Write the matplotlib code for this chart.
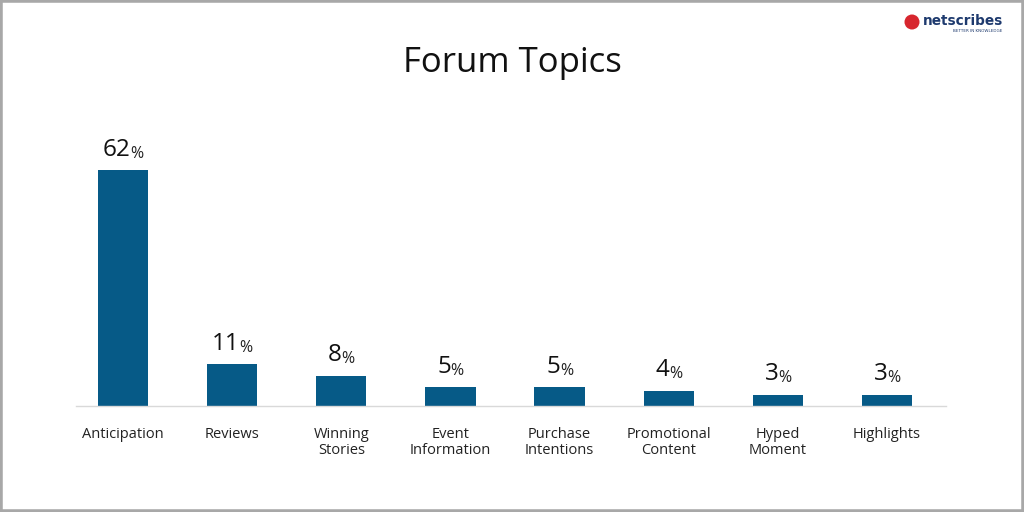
import matplotlib
matplotlib.use("Agg")
import matplotlib.pyplot as plt
from matplotlib.patches import Rectangle, Ellipse

categories = ["Anticipation", "Reviews", "Winning\nStories", "Event\nInformation",
              "Purchase\nIntentions", "Promotional\nContent", "Hyped\nMoment", "Highlights"]
values = [62, 11, 8, 5, 5, 4, 3, 3]
title = "Forum Topics"

bar_color = "#065a87"
font = "Open Sans"

fig = plt.figure(figsize=(10.24, 5.12), dpi=100)
ax = fig.add_axes([76 / 1024, 106 / 512, 870 / 1024, 306 / 512])

x = list(range(len(categories)))
ax.bar(x, values, width=0.46, color=bar_color, zorder=2)
ax.set_xlim(-0.43, len(categories) - 1 + 0.54)
ax.set_ylim(0, 80.4)

for s in ["top", "right", "left"]:
    ax.spines[s].set_visible(False)
ax.spines["bottom"].set_color("#d9d9d9")
ax.spines["bottom"].set_linewidth(1.0)
ax.set_yticks([])
ax.set_xticks(x)
ax.set_xticklabels(categories, fontfamily=font, fontsize=10.5, color="#222222",
                   linespacing=1.15, va="top")
ax.tick_params(axis="x", length=0, pad=15)

fig.text(0.5, 1 - 63 / 512, title, ha="center", va="center",
         fontfamily=font, fontsize=25, color="#111111")

# value labels: large number + small percent sign, centred together
fig.canvas.draw()
renderer = fig.canvas.get_renderer()
for xi, v in zip(x, values):
    num = ax.annotate(str(v), (xi, v), xytext=(0, 6), textcoords="offset points",
                      ha="right", va="bottom", fontfamily=font, fontsize=17.5,
                      color="#111111")
    pct = ax.annotate("%", (xi, v), xytext=(0, 6), textcoords="offset points",
                      ha="left", va="bottom", fontfamily=font, fontsize=11.5,
                      color="#222222")
    w1 = num.get_window_extent(renderer).width
    w2 = pct.get_window_extent(renderer).width
    shift = (w1 - w2) / 2 * 72 / fig.dpi
    num.set_position((shift + 0.3, 6))
    pct.set_position((shift, 6))

# logo
fig.text(1003 / 1024, 1 - 21 / 512, "netscribes", ha="right", va="center",
         fontfamily="DejaVu Sans", fontweight="bold", fontsize=9.8,
         color="#1e3a6e")
fig.text(1002 / 1024, 1 - 31 / 512, "BETTER IN KNOWLEDGE", ha="right", va="center",
         fontfamily="DejaVu Sans", fontsize=3, color="#1e3a6e")
fig.patches.append(Ellipse((912 / 1024, 1 - 22 / 512), 15 / 1024, 15 / 512,
                           transform=fig.transFigure,
                           facecolor="#d7262e", edgecolor="none"))

# grey frame
fig.patches.append(Rectangle((0, 0), 1, 1, transform=fig.transFigure, fill=False,
                             edgecolor="#a8a8a8", linewidth=4))

fig.savefig("out.png", dpi=100, facecolor="white")
